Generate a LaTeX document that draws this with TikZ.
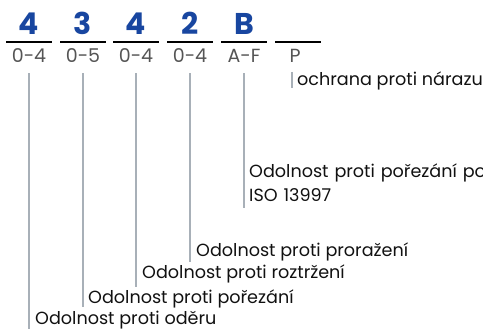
\documentclass[tikz,border=0pt]{standalone}
\usepackage{fontspec}
\setmainfont{Poppins}
\definecolor{codeblue}{HTML}{1846A0}
\definecolor{rangegray}{HTML}{555555}
\definecolor{linegray}{HTML}{A8B0B8}
\definecolor{textblack}{HTML}{111111}
\begin{document}
\begin{tikzpicture}[x=1pt,y=-1pt,
  digitlbl/.style={anchor=base,inner sep=0pt,text=codeblue,font=\fontsize{30}{30}\selectfont\bfseries},
  rangelbl/.style={anchor=base,inner sep=0pt,text=rangegray,font=\fontsize{19}{19}\selectfont},
  barline/.style={line width=2pt,black},
  connline/.style={line width=2pt,linegray},
  desclbl/.style={anchor=base west,inner sep=0pt,text=textblack,font=\fontsize{17.6}{24}\selectfont,align=left}]
\useasboundingbox (0,0) rectangle (483,329);
\begin{scope}
\clip (0,0) rectangle (483,329);
% digits
\node[digitlbl] (d1) at (29,35) {4};
\node[digitlbl] (d2) at (83,35) {3};
\node[digitlbl] (d3) at (136,35) {4};
\node[digitlbl] (d4) at (190,35) {2};
\node[digitlbl] (d5) at (244,35) {B};
% bars
\foreach \c in {29,83,136,190,244,298}{
  \draw[barline] (\c-23,41.7) -- (\c+23,41.7);
}
% ranges
\node[rangelbl] (r1) at (29,63) {0-4};
\node[rangelbl] (r2) at (83,63) {0-5};
\node[rangelbl] (r3) at (136,63) {0-4};
\node[rangelbl] (r4) at (190,63) {0-4};
\node[rangelbl] (r5) at (244,63) {A-F};
\node[rangelbl] (r6) at (295,63) {P};
% descriptions
\node[desclbl] (t6) at (297,86) {ochrana proti nárazu};
\node[desclbl,text width=300pt] (t5) at (249,178) {Odolnost proti pořezání po\\ISO 13997};
\node[desclbl] (t4) at (196,256) {Odolnost proti proražení};
\node[desclbl] (t3) at (142,279) {Odolnost proti roztržení};
\node[desclbl] (t2) at (88,303) {Odolnost proti pořezání};
\node[desclbl] (t1) at (35,324) {Odolnost proti oděru};
% connector ends
\coordinate (e1) at (29,329);
\coordinate (e2) at (83,307);
\coordinate (e3) at (136,287);
\coordinate (e4) at (190,262);
\coordinate (e5) at (244,208);
\coordinate (s6) at (292,72);
\coordinate (e6) at (292,88);
\draw[connline] ([yshift=-10pt]r1.south) -- (e1);
\draw[connline] ([yshift=-10pt]r2.south) -- (e2);
\draw[connline] ([yshift=-10pt]r3.south) -- (e3);
\draw[connline] ([yshift=-10pt]r4.south) -- (e4);
\draw[connline] ([yshift=-10pt]r5.south) -- (e5);
\draw[connline] (s6) -- (e6);
\end{scope}
\end{tikzpicture}
\end{document}
